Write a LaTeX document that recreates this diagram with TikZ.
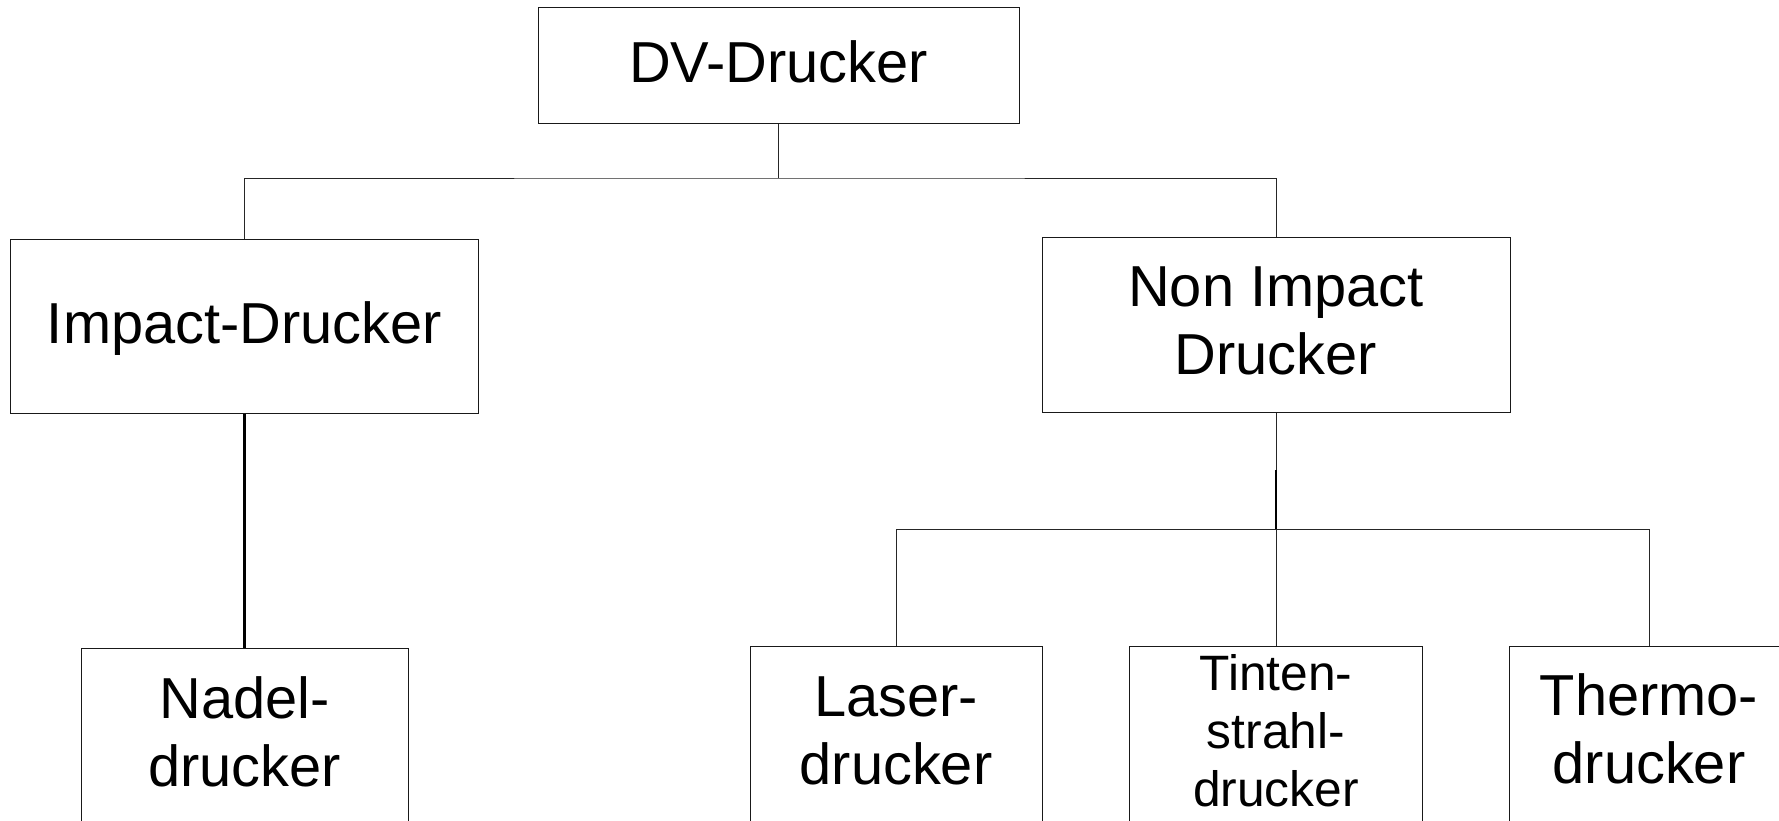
\documentclass[tikz,border=0pt]{standalone}
\usepackage{fontspec}
\setmainfont{Liberation Sans}
\begin{document}
\begin{tikzpicture}[x=1pt,y=-1pt,
  frame/.style={draw=black!90, line width=1pt, inner sep=0pt, minimum height=#1},
  frame/.default=175pt,
  label/.style={align=center, inner sep=0pt, font=\fontsize{57.8}{68}\selectfont},
  smalllabel/.style={align=center, inner sep=0pt, font=\fontsize{49.7}{58}\selectfont},
  link/.style={draw=black!85, line width=1pt},
  heavylink/.style={draw=black, line width=3pt}
]
\useasboundingbox (0,0) rectangle (1779,820);
\clip (0,0) rectangle (1779,820);

% boxes
\node[frame=116pt, minimum width=481pt] (dv)   at (778.5,65) {};
\node[frame=174pt, minimum width=468pt] (imp)  at (244.5,326) {};
\node[frame=175pt, minimum width=468pt] (nimp) at (1276,324.5) {};
\node[frame, minimum width=327pt] (nadel)  at (244.5,735.5) {};
\node[frame, minimum width=292pt] (laser)  at (896,733.5) {};
\node[frame, minimum width=293pt] (tinte)  at (1276,733.5) {};
\node[frame, minimum width=279pt] (thermo) at (1649,733.5) {};

% texts
\node[label] (tdv)    at (778.5,61.5) {DV-Drucker};
\node[label] (timp)   at (244.5,329)  {Impact-Drucker};
\node[label] (tnimp)  at (1276,321.3) {Non Impact\\Drucker};
\node[label] (tnadel) at (244.5,732)  {Nadel-\\drucker};
\node[label] (tlaser) at (896,731)    {Laser-\\drucker};
\node[smalllabel] (ttinte) at (1276,731) {Tinten-\\strahl-\\drucker};
\node[label] (tthermo) at (1649,728.5) {Thermo-\\drucker};

% bus coordinates
\coordinate (bus1) at (dv.south |- 0,178);
\coordinate (bus2) at (nimp.south |- 0,529.3);
\coordinate (bus2up) at (nimp.south |- 0,470);

% connectors
\draw[link] (dv.south) -- (bus1);
\draw[link] (imp.north) |- (bus1) -| (nimp.north);
\draw[heavylink] (imp.south) -- (nadel.north);
\draw[link] (nimp.south) -- (bus2);
\draw[link, line width=1.4pt, draw=black] (bus2up) -- (bus2);
\draw[link] (laser.north) |- (bus2) -| (thermo.north);
\draw[link] (bus2) -- (tinte.north);
\end{tikzpicture}
\end{document}
